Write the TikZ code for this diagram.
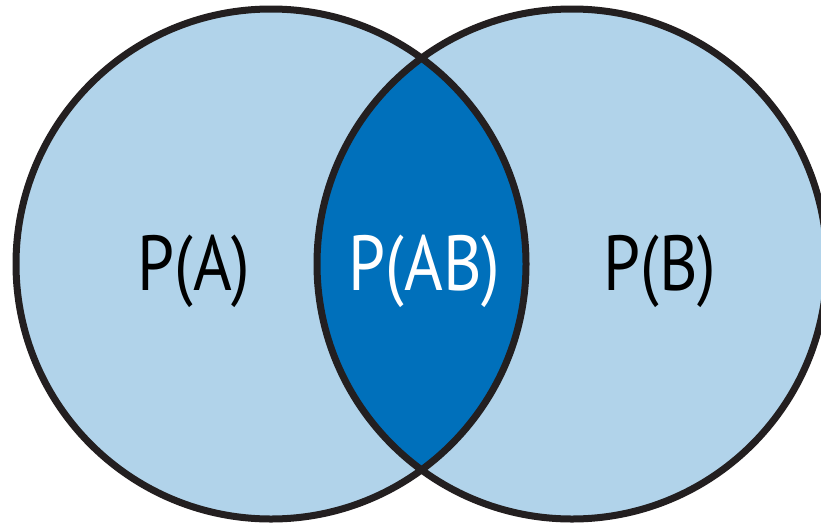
\documentclass[tikz,border=0pt]{standalone}
\usepackage{fontspec}
\setmainfont{PT Sans}[FakeStretch=0.85]
\definecolor{lightblue}{HTML}{B1D3EA}
\definecolor{darkblue}{HTML}{0070BB}
\definecolor{outline}{HTML}{231F20}
\begin{document}
\begin{tikzpicture}[x=1pt,y=-1pt,
  ring/.style={draw=outline,line width=7pt},
  lbl/.style={font=\fontsize{78}{90}\selectfont,inner sep=0pt,anchor=base}]
\useasboundingbox (0,0) rectangle (821,525);
\coordinate (ca) at (271,264);
\coordinate (cb) at (572,264);
\fill[lightblue] (ca) circle (255);
\fill[lightblue] (cb) circle (255);
\begin{scope}
  \clip (ca) circle (255);
  \fill[darkblue] (cb) circle (255);
\end{scope}
\draw[ring] (ca) circle (255);
\draw[ring] (cb) circle (255);
\node[lbl,text=black] (pa) at (194,290) {P(A)};
\node[lbl,text=white] (pab) at (424.5,290) {P(AB)};
\node[lbl,text=black] (pb) at (660,290) {P(B)};
\end{tikzpicture}
\end{document}
